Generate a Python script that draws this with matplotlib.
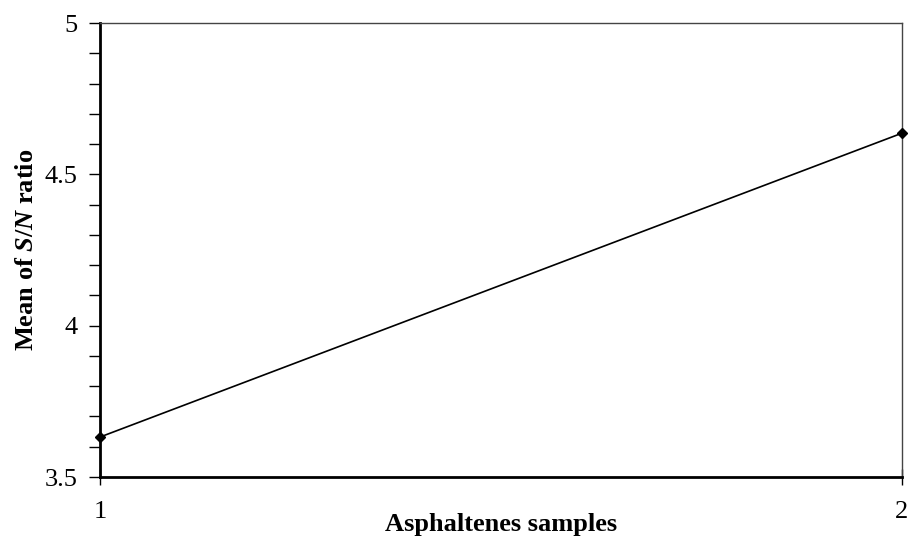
import matplotlib.pyplot as plt
from matplotlib.ticker import MultipleLocator

samples = [1, 2]
sn_mean = [3.632, 4.636]
y_ticks = [3.5, 4, 4.5, 5]
y_tick_labels = ['3.5', '4', '4.5', '5']

plt.rcParams['font.family'] = ['Liberation Serif', 'DejaVu Serif']
plt.rcParams['mathtext.fontset'] = 'custom'
plt.rcParams['mathtext.rm'] = 'Liberation Serif:bold'
plt.rcParams['mathtext.it'] = 'Liberation Serif:italic:bold'
plt.rcParams['mathtext.bf'] = 'Liberation Serif:bold'

fig = plt.figure(figsize=(9.08, 5.42), dpi=100)
ax = fig.add_axes([100 / 908, 1 - 477 / 542, 802 / 908, 454 / 542])

ax.plot(samples, sn_mean, color='black', lw=1.2, marker='D', ms=5,
        clip_on=False, zorder=5)

ax.set_xlim(1, 2)
ax.set_ylim(3.5, 5)
ax.set_xticks(samples)
ax.set_xticklabels([str(s) for s in samples])
ax.set_yticks(y_ticks)
ax.set_yticklabels(y_tick_labels)
ax.yaxis.set_minor_locator(MultipleLocator(0.1))

ax.tick_params(axis='both', which='major', direction='out', length=8, width=1,
               labelsize=19, pad=8)
ax.tick_params(axis='y', which='minor', direction='out', length=8, width=1)
ax.tick_params(axis='x', which='major', direction='inout', length=12, pad=11)

for side in ['left', 'bottom']:
    ax.spines[side].set_linewidth(2)
for side in ['top', 'right']:
    ax.spines[side].set_linewidth(1)
    ax.spines[side].set_color('#444444')

ax.set_xlabel('Asphaltenes samples', fontsize=19, fontweight='bold', labelpad=-7)
ax.set_ylabel(r'Mean of $S/N$ ratio', fontsize=19, fontweight='bold',
              labelpad=5)

fig.savefig('out.png', dpi=100)
